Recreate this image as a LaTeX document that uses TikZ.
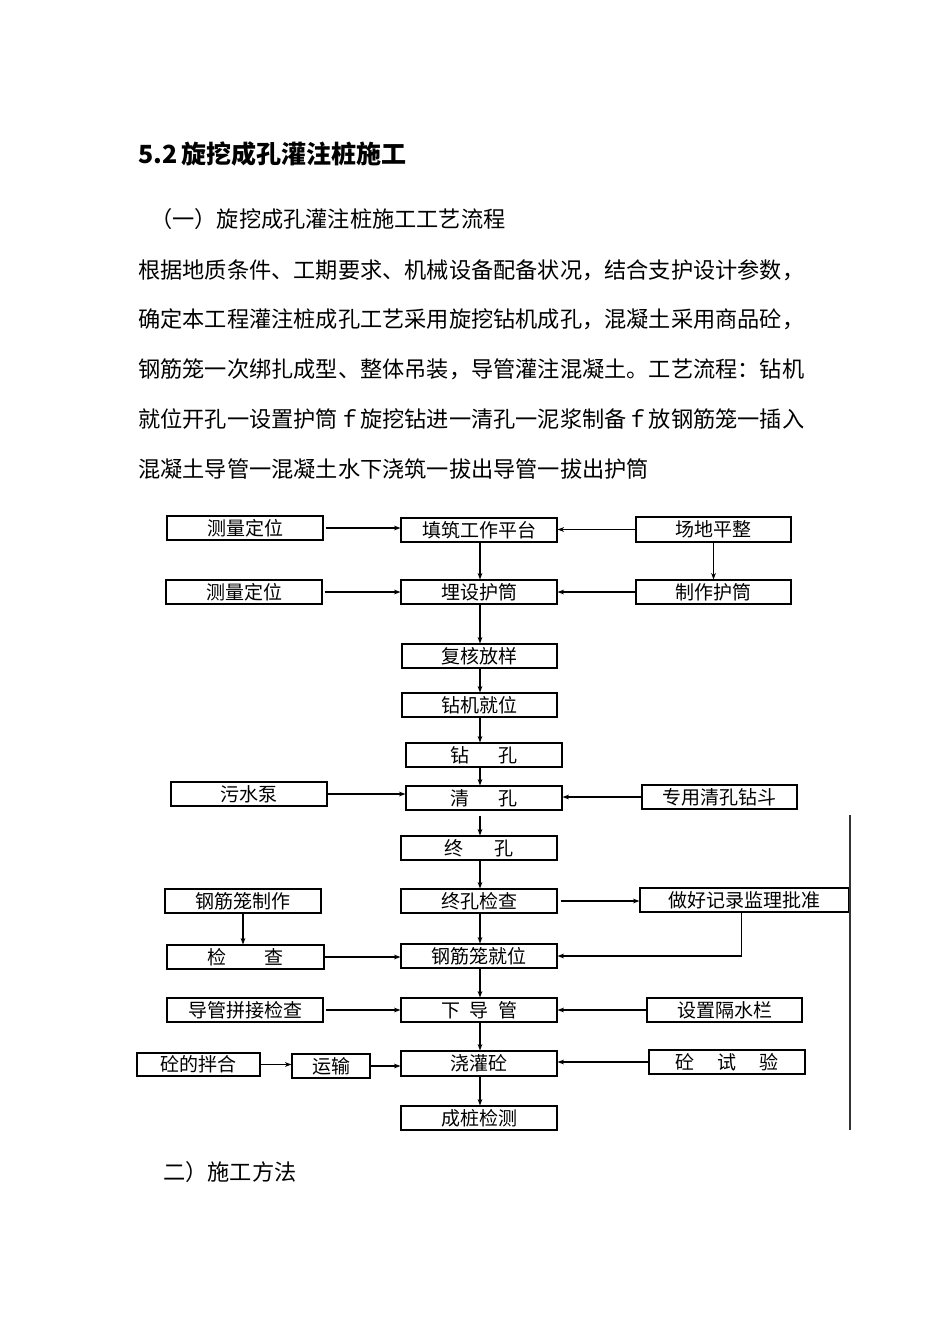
\documentclass[tikz,border=0pt]{standalone}
\usepackage{fontspec}
\setmainfont{Noto Sans CJK SC}
\usetikzlibrary{arrows.meta}
\begin{document}
\begin{tikzpicture}[x=1pt,y=-1pt,
  bx/.style={draw, line width=1.1pt, inner sep=0pt, minimum height=24pt, minimum width=156pt, font=\fontsize{19}{19}\selectfont},
  arr/.style={line width=1.2pt, -{Stealth[length=6.5pt,width=4.8pt]}},
  para/.style={anchor=base west, inner sep=0pt, font=\fontsize{22.2}{22.2}\selectfont}]
\useasboundingbox[fill=white] (0,0) rectangle (950,1344);

% ---------- text ----------
\node[anchor=base west, inner sep=0pt, font=\fontsize{25}{25}\selectfont\bfseries] (title) at (138,163) {5.2\hspace{4pt}旋挖成孔灌注桩施工};
\node[para] (sub) at (150,227.5) {（一）旋挖成孔灌注桩施工工艺流程};
\node[para] (l1) at (138,278.4) {根据地质条件、工期要求、机械设备配备状况，结合支护设计参数，};
\node[para] (l2) at (138,327.6) {确定本工程灌注桩成孔工艺采用旋挖钻机成孔，混凝土采用商品砼，};
\node[para] (l3) at (138,377.2) {钢筋笼一次绑扎成型、整体吊装，导管灌注混凝土。工艺流程：钻机};
\node[para] (l4) at (138,427) {就位开孔一设置护筒ｆ旋挖钻进一清孔一泥浆制备ｆ放钢筋笼一插入};
\node[para] (l5) at (138,477) {混凝土导管一混凝土水下浇筑一拔出导管一拔出护筒};
\node[para] (sec2) at (163,1180.4) {二）施工方法};

% ---------- centre column ----------
\coordinate (colx) at (480,0);
\node[bx] (fill) at (479,530) {填筑工作平台};
\node[bx] (mai) at (479,592) {埋设护筒};
\node[bx, minimum width=155pt] (fuhe) at (479.5,656) {复核放样};
\node[bx, minimum width=155pt] (zuanji) at (479.5,705) {钻机就位};
\node[bx] (zuankong) at (484,755) {钻\hspace{1.5em}孔};
\node[bx] (qingkong) at (484,798) {清\hspace{1.5em}孔};
\node[bx] (zhongkong) at (479,848) {终\hspace{1.6em}孔};
\node[bx] (zkjc) at (479,901) {终孔检查};
\node[bx] (gjljw) at (479,956) {钢筋笼就位};
\node[bx] (xdg) at (479,1010) {下\hspace{0.5em}导\hspace{0.5em}管};
\node[bx, minimum height=25pt] (jgt) at (479,1063.5) {浇灌砼};
\node[bx] (cz) at (479,1118) {成桩检测};

% ---------- left column ----------
\node[bx] (cl1) at (245,528) {测量定位};
\node[bx] (cl2) at (244,592) {测量定位};
\node[bx] (wsb) at (249,794) {污水泵};
\node[bx] (gjlzz) at (243,901) {钢筋笼制作};
\node[bx, minimum width=157pt] (jc) at (245.5,957) {检\hspace{2em}查};
\node[bx] (dgpj) at (245,1010) {导管拼接检查};
\node[bx, minimum width=123pt, minimum height=23pt] (tbh) at (198.5,1064.5) {砼的拌合};
\node[bx, minimum width=78pt] (ys) at (331,1066) {运输};

% ---------- right column ----------
\node[bx, minimum width=155pt, minimum height=25pt] (cdpz) at (713.5,529.5) {场地平整};
\node[bx, minimum width=155pt] (zzhd) at (713.5,592) {制作护筒};
\node[bx, minimum width=155pt] (zyqk) at (719.5,797) {专用清孔钻斗};
\node[bx, minimum width=209pt] (zhjl) at (744.5,900) {做好记录监理批准};
\node[bx, minimum width=155pt] (gsgl) at (724.5,1010) {设置隔水栏};
\node[bx] (tsy) at (727,1062) {砼\hspace{1.2em}试\hspace{1.2em}验};

% page edge line
\draw[line width=1.1pt, black!80] (850,815) -- (850,1130);

% ---------- connectors ----------
% horizontal into centre
\draw[arr, shorten <=2pt] (cl1.east) -- (cl1.east -| fill.west);
\draw[arr] (cdpz.west) -- (cdpz.west -| fill.east);
\draw[arr, shorten <=2pt] (cl2.east) -- (cl2.east -| mai.west);
\draw[arr] (zzhd.west) -- (zzhd.west -| mai.east);
\draw[arr] (wsb.east) -- (wsb.east -| qingkong.west);
\draw[arr] (zyqk.west) -- (zyqk.west -| qingkong.east);
\draw[arr, shorten <=3pt] (zkjc.east) -- (zkjc.east -| zhjl.west);
\draw[arr] (jc.east) -- (jc.east -| gjljw.west);
\draw[arr] ([xshift=-3pt]zhjl.south) |- (gjljw.east);
\draw[arr, shorten <=2pt] (dgpj.east) -- (dgpj.east -| xdg.west);
\draw[arr] (gsgl.west) -- (gsgl.west -| xdg.east);
\draw[arr] (tbh.east) -- (tbh.east -| ys.west);
\draw[arr] (ys.east) -- (ys.east -| jgt.west);
\draw[arr] (tsy.west) -- (tsy.west -| jgt.east);
% vertical side
\draw[arr] (cdpz.south) -- (cdpz.south |- zzhd.north);
\draw[arr] (gjlzz.south) -- (gjlzz.south |- jc.north);
% vertical centre
\draw[arr] (fill.south -| colx) -- (mai.north -| colx);
\draw[arr] (mai.south -| colx) -- (fuhe.north -| colx);
\draw[arr] (fuhe.south -| colx) -- (zuanji.north -| colx);
\draw[arr] (zuanji.south -| colx) -- (zuankong.north -| colx);
\draw[arr] (zuankong.south -| colx) -- (qingkong.north -| colx);
\draw[arr, shorten <=5pt] (qingkong.south -| colx) -- (zhongkong.north -| colx);
\draw[arr] (zhongkong.south -| colx) -- (zkjc.north -| colx);
\draw[arr] (zkjc.south -| colx) -- (gjljw.north -| colx);
\draw[arr] (gjljw.south -| colx) -- (xdg.north -| colx);
\draw[arr] (xdg.south -| colx) -- (jgt.north -| colx);
\draw[arr] (jgt.south -| colx) -- (cz.north -| colx);
\end{tikzpicture}
\end{document}
